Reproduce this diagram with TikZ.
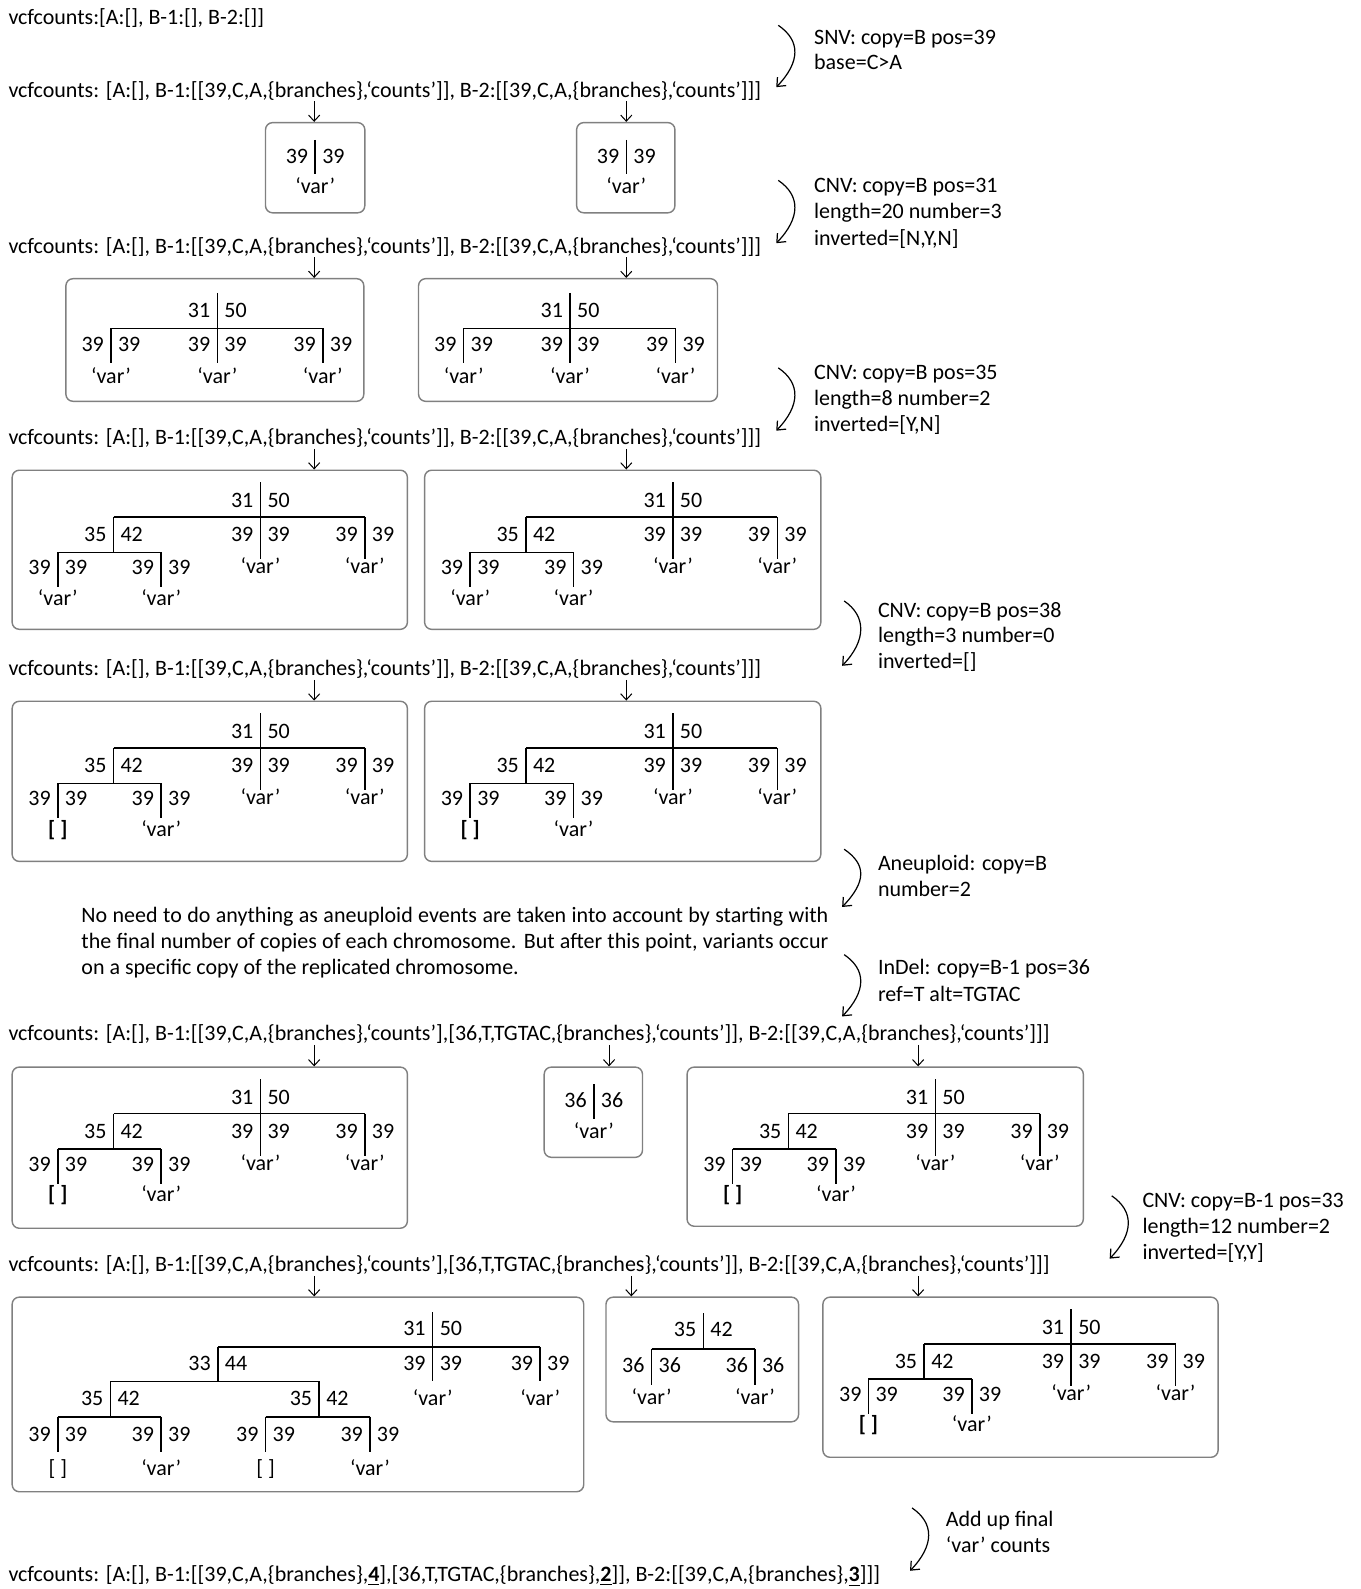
\documentclass[tikz,border=0pt]{standalone}
\usepackage{fontspec}
\setmainfont{Carlito}
\usetikzlibrary{arrows.meta,fit}
\newcommand{\fz}{\fontsize{10.85}{12.75}\selectfont}
\tikzset{
  txt/.style={inner sep=0pt, anchor=base west, font=\fz},
  lbl/.style={inner xsep=3.3pt, inner ysep=0pt, font=\fz},
  tl/.style={line width=0.75pt},
  boxst/.style={draw=black!50, line width=0.7pt, rounded corners=3.5pt, inner sep=0pt},
  sarr/.style={line width=0.5pt, -{Straight Barb[length=3pt,width=5.5pt]}},
  carr/.style={line width=0.6pt, -{Straight Barb[length=3.5pt,width=6pt]}},
}
% vertical split: name x ytop ybot ylabel left right
\newcommand{\vsp}[7]{%
  \coordinate (#1-t) at (#2,#3);
  \coordinate (#1-b) at (#2,#4);
  \draw[tl] (#1-t) -- (#1-b);
  \node[lbl,anchor=base east] (#1-l) at ({#2},{#5+6}) {#6};
  \node[lbl,anchor=base west] (#1-r) at ({#2},{#5+6}) {#7};
}
\newcommand{\lf}[4]{\node[lbl,anchor=base] (#1) at ({#2},{#3+6}) {#4};}
\newcommand{\bx}[5]{%
  \coordinate (#1-nw) at (#2,#3);
  \coordinate (#1-se) at (#4,#5);
  \node[boxst, fit=(#1-nw)(#1-se)] (#1) {};
}
\newcommand{\ann}[4]{\node[txt] (#1) at (#2,{#3+6}) {#4};}
\newcommand{\carrow}[4]{%
  \coordinate (#1-s) at (#2,#3);
  \coordinate (#1-e) at ({#2-2},#4);
  \draw[carr] (#1-s) .. controls ({#2+22},{#3+15}) and ({#2+22},{#4-25}) .. (#1-e);
}
\newcommand{\sarrow}[4]{% name x y box
  \coordinate (#1) at (#2,#3);
  \draw[sarr] (#1) -- (#4.north -| #1);
}
% single split
\newcommand{\treeA}[5]{%
  \pgfmathsetmacro{\qqx}{#2+49}
  \pgfmathsetmacro{\qqya}{#3+17}
  \pgfmathsetmacro{\qqyb}{#3+51}
  \pgfmathsetmacro{\qqyl}{#3+34}
  \pgfmathsetmacro{\qqyv}{#3+64}
  \vsp{#1r}{\qqx}{\qqya}{\qqyb}{\qqyl}{#4}{#4}
  \lf{#1v}{\qqx}{\qqyv}{#5}
}
% two-level, three leaves
\newcommand{\treeB}[3]{%
  \pgfmathsetmacro{\qqx}{#2+149.5}
  \pgfmathsetmacro{\qqxa}{#2+44.5}
  \pgfmathsetmacro{\qqxc}{#2+253.5}
  \pgfmathsetmacro{\qqya}{#3+14}
  \pgfmathsetmacro{\qqyb}{#3+49}
  \pgfmathsetmacro{\qqyc}{#3+83}
  \pgfmathsetmacro{\qqyl}{#3+32}
  \pgfmathsetmacro{\qqym}{#3+66}
  \pgfmathsetmacro{\qqyv}{#3+97}
  \vsp{#1r}{\qqx}{\qqya}{\qqyb}{\qqyl}{31}{50}
  \vsp{#1a}{\qqxa}{\qqyb}{\qqyc}{\qqym}{39}{39}
  \vsp{#1b}{\qqx}{\qqyb}{\qqyc}{\qqym}{39}{39}
  \vsp{#1c}{\qqxc}{\qqyb}{\qqyc}{\qqym}{39}{39}
  \draw[tl] (#1a-t) -- (#1c-t);
  \lf{#1av}{\qqxa}{\qqyv}{‘var’}
  \lf{#1bv}{\qqx}{\qqyv}{‘var’}
  \lf{#1cv}{\qqxc}{\qqyv}{‘var’}
}
% three-level tree
\newcommand{\treeC}[4]{%
  \pgfmathsetmacro{\qqx}{#2+245}
  \pgfmathsetmacro{\qqxs}{#2+100}
  \pgfmathsetmacro{\qqxc}{#2+348}
  \pgfmathsetmacro{\qqxd}{#2+45}
  \pgfmathsetmacro{\qqxe}{#2+147}
  \pgfmathsetmacro{\qqya}{#3+12}
  \pgfmathsetmacro{\qqyb}{#3+46}
  \pgfmathsetmacro{\qqyl}{#3+31}
  \pgfmathsetmacro{\qqym}{#3+64}
  \pgfmathsetmacro{\qqyc}{#3+88}
  \pgfmathsetmacro{\qqyv}{#3+96}
  \pgfmathsetmacro{\qqyd}{#3+81}
  \pgfmathsetmacro{\qqyn}{#3+97}
  \pgfmathsetmacro{\qqye}{#3+115}
  \pgfmathsetmacro{\qqyw}{#3+127}
  \vsp{#1r}{\qqx}{\qqya}{\qqyb}{\qqyl}{31}{50}
  \vsp{#1s}{\qqxs}{\qqyb}{\qqyd}{\qqym}{35}{42}
  \vsp{#1b}{\qqx}{\qqyb}{\qqyc}{\qqym}{39}{39}
  \vsp{#1c}{\qqxc}{\qqyb}{\qqyc}{\qqym}{39}{39}
  \draw[tl] (#1s-t) -- (#1c-t);
  \vsp{#1d}{\qqxd}{\qqyd}{\qqye}{\qqyn}{39}{39}
  \vsp{#1e}{\qqxe}{\qqyd}{\qqye}{\qqyn}{39}{39}
  \draw[tl] (#1d-t) -- (#1e-t);
  \lf{#1bv}{\qqx}{\qqyv}{‘var’}
  \lf{#1cv}{\qqxc}{\qqyv}{‘var’}
  \lf{#1dv}{\qqxd}{\qqyw}{#4}
  \lf{#1ev}{\qqxe}{\qqyw}{‘var’}
}
\begin{document}
\begin{tikzpicture}[x=0.5pt,y=-0.5pt]
\fill[white] (0,0) rectangle (1343,1568);

% ---------- state lines ----------
\ann{v1}{8}{18}{vcfcounts:[A:[], B-1:[], B-2:[]]}
\ann{v2}{8}{90}{vcfcounts: [A:[], B-1:[[39,C,A,\{branches\},‘counts’]], B-2:[[39,C,A,\{branches\},‘counts’]]]}
\ann{v3}{8}{244}{vcfcounts: [A:[], B-1:[[39,C,A,\{branches\},‘counts’]], B-2:[[39,C,A,\{branches\},‘counts’]]]}
\ann{v4}{8}{433}{vcfcounts: [A:[], B-1:[[39,C,A,\{branches\},‘counts’]], B-2:[[39,C,A,\{branches\},‘counts’]]]}
\ann{v5}{8}{661}{vcfcounts: [A:[], B-1:[[39,C,A,\{branches\},‘counts’]], B-2:[[39,C,A,\{branches\},‘counts’]]]}
\ann{v6}{8}{1021}{vcfcounts: [A:[], B-1:[[39,C,A,\{branches\},‘counts’],[36,T,TGTAC,\{branches\},‘counts’]], B-2:[[39,C,A,\{branches\},‘counts’]]]}
\ann{v7}{8}{1249}{vcfcounts: [A:[], B-1:[[39,C,A,\{branches\},‘counts’],[36,T,TGTAC,\{branches\},‘counts’]], B-2:[[39,C,A,\{branches\},‘counts’]]]}
\ann{v8}{8}{1555}{vcfcounts: [A:[], B-1:[[39,C,A,\{branches\},\underline{\textbf{4}}],[36,T,TGTAC,\{branches\},\underline{\textbf{2}}]], B-2:[[39,C,A,\{branches\},\underline{\textbf{3}}]]]}

% ---------- event annotations ----------
\carrow{c1}{768}{25}{86}
\ann{e1a}{803}{38}{SNV: copy=B pos=39}
\ann{e1b}{803}{63}{base=C>A}
\carrow{c2}{768}{178}{240}
\ann{e2a}{803}{184}{CNV: copy=B pos=31}
\ann{e2b}{803}{210}{length=20 number=3}
\ann{e2c}{803}{236}{inverted=[N,Y,N]}
\carrow{c3}{768}{363}{425}
\ann{e3a}{803}{368}{CNV: copy=B pos=35}
\ann{e3b}{803}{394}{length=8 number=2}
\ann{e3c}{803}{420}{inverted=[Y,N]}
\carrow{c4}{833}{593}{657}
\ann{e4a}{866}{603}{CNV: copy=B pos=38}
\ann{e4b}{866}{628}{length=3 number=0}
\ann{e4c}{866}{654}{inverted=[]}
\carrow{c5}{833}{838}{895}
\ann{e5a}{866}{853}{Aneuploid: copy=B}
\ann{e5b}{866}{879}{number=2}
\carrow{c6}{833}{942}{1003}
\ann{e6a}{866}{956}{InDel: copy=B-1 pos=36}
\ann{e6b}{866}{982}{ref=T alt=TGTAC}
\carrow{c7}{1097}{1180}{1242}
\ann{e7a}{1127}{1186}{CNV: copy=B-1 pos=33}
\ann{e7b}{1127}{1211}{length=12 number=2}
\ann{e7c}{1127}{1237}{inverted=[Y,Y]}
\carrow{c8}{900}{1488}{1550}
\ann{e8a}{933}{1500}{Add up final}
\ann{e8b}{933}{1526}{‘var’ counts}

\node[txt, text width=368.5pt, align=justify, font={\fontsize{10.85}{13}\selectfont}] (para) at (80,910)
 {No need to do anything as aneuploid events are taken into account by starting with\linebreak
  the final number of copies of each chromosome. But after this point, variants occur\linebreak
  on a specific copy of the replicated chromosome.};

% ---------- row 2 ----------
\bx{b2a}{262}{121}{360}{210}
\treeA{t2a}{262}{121}{39}{‘var’}
\bx{b2b}{569}{121}{666}{210}
\treeA{t2b}{569}{121}{39}{‘var’}
\sarrow{s2a}{310}{100}{b2a}
\sarrow{s2b}{618}{100}{b2b}

% ---------- row 3 ----------
\bx{b3a}{65}{275}{359}{396}
\treeB{t3a}{65}{275}
\bx{b3b}{413}{275}{708}{396}
\treeB{t3b}{413}{275}
\sarrow{s3a}{310}{254}{b3a}
\sarrow{s3b}{618}{254}{b3b}

% ---------- row 4 ----------
\bx{b4a}{12}{464}{402}{621}
\treeC{t4a}{12}{464}{‘var’}
\bx{b4b}{419}{464}{810}{621}
\treeC{t4b}{419}{464}{‘var’}
\sarrow{s4a}{310}{443}{b4a}
\sarrow{s4b}{618}{443}{b4b}

% ---------- row 5 ----------
\bx{b5a}{12}{692}{402}{850}
\treeC{t5a}{12}{692}{\textbf{[ ]}}
\bx{b5b}{419}{692}{810}{850}
\treeC{t5b}{419}{692}{\textbf{[ ]}}
\sarrow{s5a}{310}{671}{b5a}
\sarrow{s5b}{618}{671}{b5b}

% ---------- row 6 ----------
\bx{b6a}{12}{1053}{402}{1212}
\treeC{t6a}{12}{1053}{\textbf{[ ]}}
\bx{b6b}{537}{1053}{634}{1142}
\treeA{t6b}{537}{1053}{36}{‘var’}
\bx{b6c}{678}{1053}{1069}{1210}
\treeC{t6c}{678}{1053}{\textbf{[ ]}}
\sarrow{s6a}{310}{1031}{b6a}
\sarrow{s6b}{601}{1031}{b6b}
\sarrow{s6c}{906}{1031}{b6c}

% ---------- row 7 ----------
\bx{b7a}{12}{1280}{576}{1472}
\vsp{g1}{427}{1295}{1329}{1312}{31}{50}
\vsp{g2}{215}{1329}{1363}{1346}{33}{44}
\vsp{g3}{427}{1329}{1363}{1346}{39}{39}
\vsp{g4}{533}{1329}{1363}{1346}{39}{39}
\draw[tl] (g2-t) -- (g4-t);
\lf{g3v}{427}{1381}{‘var’}
\lf{g4v}{533}{1381}{‘var’}
\vsp{g5}{109}{1363}{1398}{1381}{35}{42}
\vsp{g6}{315}{1363}{1398}{1381}{35}{42}
\draw[tl] (g5-t) -- (g6-t);
\vsp{g7}{57}{1398}{1433}{1416}{39}{39}
\vsp{g8}{159}{1398}{1433}{1416}{39}{39}
\draw[tl] (g7-t) -- (g8-t);
\vsp{g9}{262}{1398}{1433}{1416}{39}{39}
\vsp{g10}{365}{1398}{1433}{1416}{39}{39}
\draw[tl] (g9-t) -- (g10-t);
\lf{g7v}{57}{1450}{[ ]}
\lf{g8v}{159}{1450}{‘var’}
\lf{g9v}{262}{1450}{[ ]}
\lf{g10v}{365}{1450}{‘var’}

\bx{b7b}{598}{1280}{788}{1403}
\vsp{m1}{694}{1296}{1331}{1313}{35}{42}
\vsp{m2}{643}{1331}{1367}{1348}{36}{36}
\vsp{m3}{745}{1331}{1367}{1348}{36}{36}
\draw[tl] (m2-t) -- (m3-t);
\lf{m2v}{643}{1380}{‘var’}
\lf{m3v}{745}{1380}{‘var’}

\bx{b7c}{812}{1280}{1202}{1438}
\treeC{t7c}{812}{1280}{\textbf{[ ]}}
\sarrow{s7a}{310}{1259}{b7a}
\sarrow{s7b}{623}{1259}{b7b}
\sarrow{s7c}{906}{1259}{b7c}
\end{tikzpicture}
\end{document}
